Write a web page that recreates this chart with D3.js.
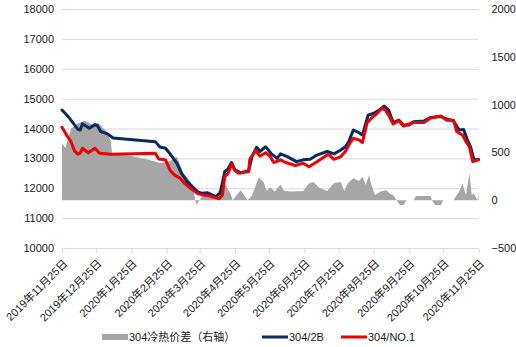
<!DOCTYPE html>
<html>
<head>
<meta charset="utf-8">
<script src="https://cdn.jsdelivr.net/npm/d3@7"></script>
<style>
  html, body { margin: 0; padding: 0; background: #fff; }
  svg { display: block; font-family: "Liberation Sans", Arial, "Noto Sans CJK SC", sans-serif; }
</style>
</head>
<body>
<svg id="chart" width="516" height="347"></svg>
<script>
// 304 stainless price series (left axis, yuan/t) and cold/hot spread (right axis)
const seriesNames = ["304冷热价差（右轴）", "304/2B", "304/NO.1"];

const price2B = [
  ["2019-11-25",14620],["2019-11-30",14420],["2019-12-06",14120],["2019-12-09",13970],
  ["2019-12-11",13950],["2019-12-13",14160],["2019-12-19",14010],["2019-12-24",14130],
  ["2019-12-26",14100],["2019-12-29",13900],["2020-01-04",13820],["2020-01-09",13680],
  ["2020-02-15",13560],["2020-02-19",13380],["2020-02-24",13340],["2020-02-28",13150],
  ["2020-03-05",12830],["2020-03-09",12500],["2020-03-14",12220],["2020-03-23",11890],
  ["2020-03-27",11830],["2020-04-01",11850],["2020-04-08",11720],["2020-04-12",11830],
  ["2020-04-16",12560],["2020-04-19",12650],["2020-04-22",12860],["2020-04-25",12610],
  ["2020-04-30",12520],["2020-05-07",12590],["2020-05-10",13060],["2020-05-14",13370],
  ["2020-05-17",13230],["2020-05-22",13390],["2020-05-27",13150],["2020-06-01",13000],
  ["2020-06-04",13150],["2020-06-10",13060],["2020-06-18",12890],["2020-06-24",12950],
  ["2020-06-30",12970],["2020-07-06",13110],["2020-07-15",13230],["2020-07-21",13150],
  ["2020-07-27",13280],["2020-07-31",13390],["2020-08-03",13560],["2020-08-07",13950],
  ["2020-08-12",13860],["2020-08-15",13780],["2020-08-20",14450],["2020-08-25",14510],
  ["2020-08-29",14600],["2020-09-03",14750],["2020-09-07",14620],["2020-09-11",14200],
  ["2020-09-16",14280],["2020-09-20",14120],["2020-09-25",14120],["2020-09-29",14230],
  ["2020-10-08",14250],["2020-10-14",14370],["2020-10-23",14400],["2020-10-28",14320],
  ["2020-11-03",14260],["2020-11-08",13950],["2020-11-12",13970],["2020-11-15",13640],
  ["2020-11-18",13390],["2020-11-21",12950],["2020-11-25",12960]
];

const priceNo1 = [
  ["2019-11-25",14040],["2019-11-29",13780],["2019-12-03",13560],["2019-12-06",13250],
  ["2019-12-09",13140],["2019-12-11",13180],["2019-12-13",13340],["2019-12-18",13190],
  ["2019-12-24",13340],["2019-12-28",13170],["2020-01-07",13140],["2020-02-15",13170],
  ["2020-02-18",12980],["2020-02-24",12950],["2020-02-28",12600],["2020-03-03",12440],
  ["2020-03-08",12330],["2020-03-11",12190],["2020-03-17",12000],["2020-03-23",11830],
  ["2020-03-28",11770],["2020-04-03",11740],["2020-04-11",11650],["2020-04-14",11770],
  ["2020-04-16",12390],["2020-04-19",12500],["2020-04-22",12810],["2020-04-25",12590],
  ["2020-04-28",12500],["2020-05-07",12560],["2020-05-08",12970],["2020-05-13",13260],
  ["2020-05-17",13080],["2020-05-22",13190],["2020-05-26",13060],["2020-05-29",12860],
  ["2020-06-04",12950],["2020-06-08",12870],["2020-06-17",12760],["2020-06-24",12840],
  ["2020-06-29",12720],["2020-07-06",12890],["2020-07-16",13140],["2020-07-21",12970],
  ["2020-07-27",13060],["2020-07-31",13230],["2020-08-04",13510],["2020-08-07",13670],
  ["2020-08-12",13620],["2020-08-15",13530],["2020-08-19",14180],["2020-08-23",14350],
  ["2020-08-28",14510],["2020-09-01",14680],["2020-09-04",14620],["2020-09-07",14450],
  ["2020-09-11",14150],["2020-09-16",14260],["2020-09-20",14080],["2020-09-25",14150],
  ["2020-09-29",14200],["2020-10-08",14200],["2020-10-14",14350],["2020-10-23",14420],
  ["2020-10-28",14280],["2020-11-03",14280],["2020-11-06",13890],["2020-11-11",13780],
  ["2020-11-14",13560],["2020-11-17",13390],["2020-11-20",12890],["2020-11-25",12950]
];

const coldHotSpread = [
  ["2019-11-25",595],["2019-11-28",545],["2019-11-30",630],["2019-12-03",750],
  ["2019-12-09",805],["2019-12-15",830],["2019-12-21",795],["2019-12-27",805],
  ["2020-01-02",735],["2020-01-04",700],["2020-01-07",610],["2020-01-08",480],
  ["2020-01-24",465],["2020-02-10",420],["2020-02-19",390],["2020-02-28",410],
  ["2020-03-05",455],["2020-03-11",280],["2020-03-17",195],["2020-03-20",70],
  ["2020-03-22",-50],["2020-03-25",0],["2020-03-28",55],["2020-04-09",60],
  ["2020-04-13",160],["2020-04-16",175],["2020-04-21",70],["2020-04-23",0],
  ["2020-04-30",105],["2020-05-06",0],["2020-05-10",50],["2020-05-16",240],
  ["2020-05-20",190],["2020-05-23",100],["2020-05-26",135],["2020-05-30",90],
  ["2020-06-04",165],["2020-06-07",100],["2020-06-13",90],["2020-06-24",95],
  ["2020-06-29",175],["2020-07-03",190],["2020-07-08",130],["2020-07-15",95],
  ["2020-07-21",180],["2020-07-27",190],["2020-07-30",95],["2020-08-02",175],
  ["2020-08-07",230],["2020-08-12",200],["2020-08-15",245],["2020-08-18",160],
  ["2020-08-21",265],["2020-08-22",195],["2020-08-26",55],["2020-08-31",90],
  ["2020-09-05",105],["2020-09-08",70],["2020-09-11",55],["2020-09-14",0],
  ["2020-09-17",-50],["2020-09-20",-50],["2020-09-23",0],["2020-09-29",0],
  ["2020-10-01",45],["2020-10-14",45],["2020-10-15",0],["2020-10-18",-50],
  ["2020-10-23",-50],["2020-10-25",0],["2020-11-03",0],["2020-11-08",90],
  ["2020-11-11",175],["2020-11-12",125],["2020-11-14",55],["2020-11-17",280],
  ["2020-11-19",55],["2020-11-21",70],["2020-11-24",0],["2020-11-25",55]
];

const leftTicks = [10000, 11000, 12000, 13000, 14000, 15000, 16000, 17000, 18000];
const rightTicks = [-500, 0, 500, 1000, 1500, 2000];
const dateTicks = [
  "2019-11-25","2019-12-25","2020-01-25","2020-02-25","2020-03-25","2020-04-25",
  "2020-05-25","2020-06-25","2020-07-25","2020-08-25","2020-09-25","2020-10-25","2020-11-25"
];

const colors = { spread: "#a6a6a6", b2: "#0b2a5e", no1: "#ee0000", grid: "#d9d9d9", text: "#1a1a1a" };

const parse = d3.timeParse("%Y-%m-%d");
const toPts = arr => arr.map(([d, v]) => ({ date: parse(d), value: v }));
const s2B = toPts(price2B), sNo1 = toPts(priceNo1), sSpread = toPts(coldHotSpread);
const tickDates = dateTicks.map(parse);

const plot = { left: 62, right: 478.5, top: 9, bottom: 248 };
const svg = d3.select("#chart");

const x = d3.scaleTime().domain([tickDates[0], tickDates[tickDates.length - 1]]).range([plot.left, plot.right]);
const yL = d3.scaleLinear().domain([10000, 18000]).range([plot.bottom, plot.top]);
const yR = d3.scaleLinear().domain([-500, 2000]).range([plot.bottom, plot.top]);

// horizontal gridlines
svg.append("g").selectAll("line").data(leftTicks.filter(t => t > 10000)).join("line")
  .attr("x1", plot.left).attr("x2", plot.right)
  .attr("y1", d => yL(d) + 0.5).attr("y2", d => yL(d) + 0.5)
  .attr("stroke", colors.grid).attr("stroke-width", 1);

// left axis labels
const leftAxis = d3.axisLeft(yL).tickValues(leftTicks).tickSize(0).tickPadding(8).tickFormat(d3.format("d"));
const gL = svg.append("g").attr("transform", `translate(${plot.left},0)`).call(leftAxis);
gL.select(".domain").remove();
gL.selectAll("text").attr("font-size", 11).attr("fill", colors.text)
  .attr("font-family", "Liberation Sans, Arial, sans-serif");

// right axis labels
const rightAxis = d3.axisRight(yR).tickValues(rightTicks).tickSize(0).tickPadding(13).tickFormat(d3.format("d"));
const gR = svg.append("g").attr("transform", `translate(${plot.right},0)`).call(rightAxis);
gR.select(".domain").remove();
gR.selectAll("text").attr("font-size", 11).attr("fill", colors.text)
  .attr("font-family", "Liberation Sans, Arial, sans-serif");

// spread area on right axis
const area = d3.area().x(d => x(d.date)).y0(yR(0)).y1(d => yR(d.value));
svg.append("path").datum(sSpread).attr("d", area).attr("fill", colors.spread);

// bottom axis: date ticks, rotated labels
const fmt = d => `${d.getFullYear()}年${d.getMonth() + 1}月${d.getDate()}日`;
const bottomAxis = d3.axisBottom(x).tickValues(tickDates).tickSize(5).tickFormat(fmt);
const gB = svg.append("g").attr("transform", `translate(0,${plot.bottom + 0.5})`).call(bottomAxis);
gB.select(".domain").attr("stroke", colors.grid).attr("d", `M${plot.left},0H${plot.right}`);
gB.selectAll(".tick line").attr("stroke", colors.grid);
gB.selectAll(".tick text")
  .attr("font-size", 11).attr("fill", colors.text)
  .attr("font-family", "Liberation Sans, Arial, 'Noto Sans CJK SC', sans-serif")
  .attr("text-anchor", "end")
  .attr("dy", "0.35em").attr("y", 0)
  .attr("transform", "translate(3,13) rotate(-45)");

// price lines
const line = d3.line().x(d => x(d.date)).y(d => yL(d.value));
svg.append("path").datum(s2B).attr("d", line).attr("fill", "none")
  .attr("stroke", colors.b2).attr("stroke-width", 3).attr("stroke-linejoin", "round").attr("stroke-linecap", "round");
svg.append("path").datum(sNo1).attr("d", line).attr("fill", "none")
  .attr("stroke", colors.no1).attr("stroke-width", 3).attr("stroke-linejoin", "round").attr("stroke-linecap", "round");

// legend
const legend = svg.append("g").attr("font-size", 11).attr("fill", colors.text)
  .attr("font-family", "Liberation Sans, Arial, 'Noto Sans CJK SC', sans-serif");
const items = [
  { name: seriesNames[0], kind: "box", color: colors.spread, x: 102 },
  { name: seriesNames[1], kind: "line", color: colors.b2, x: 262 },
  { name: seriesNames[2], kind: "line", color: colors.no1, x: 341 }
];
items.forEach(it => {
  const g = legend.append("g").attr("transform", `translate(${it.x},337)`);
  if (it.kind === "box") {
    g.append("rect").attr("x", 0).attr("y", -3).attr("width", 26).attr("height", 6).attr("fill", it.color);
  } else {
    g.append("line").attr("x1", 0).attr("x2", 26).attr("y1", 0).attr("y2", 0)
      .attr("stroke", it.color).attr("stroke-width", 3);
  }
  g.append("text").attr("x", 27).attr("y", 0).attr("dy", "0.35em").text(it.name);
});
</script>
</body>
</html>
